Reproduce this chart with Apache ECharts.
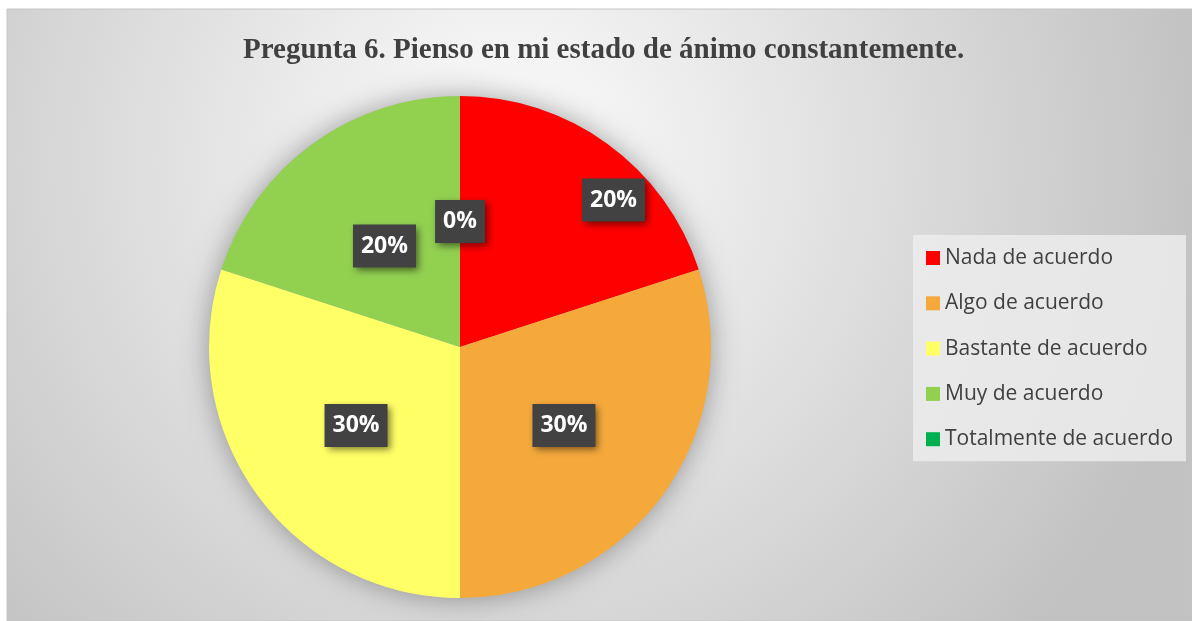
<!DOCTYPE html>
<html>
<head>
<meta charset="utf-8">
<script src="https://cdn.jsdelivr.net/npm/echarts@6/dist/echarts.min.js"></script>
<style>
  body { margin: 0; background: #fff; }
</style>
</head>
<body>
<div id="main" style="width: 1192px;height:621px;"></div>

<script type="text/javascript">
  // datos de la pregunta 6
  var categorias = ['Nada de acuerdo', 'Algo de acuerdo', 'Bastante de acuerdo', 'Muy de acuerdo', 'Totalmente de acuerdo'];
  var porcentajes = [20, 30, 30, 20, 0];
  var colores = ['#ff0000', '#f5a93b', '#ffff66', '#92d050', '#00b050'];

  var datos = [];
  categorias.forEach(function(nombre, i){
    datos.push({ name: nombre, value: porcentajes[i], itemStyle: { color: colores[i] } });
  })

  var option = {
    backgroundColor: '#ffffff',
    graphic: [
      {
        type: 'rect',
        z: -10,
        silent: true,
        shape: { x: 7, y: 9, width: 1185, height: 612 },
        style: {
          fill: {
            type: 'radial', x: 0.42, y: 0.25, r: 1.15,
            colorStops: [
              { offset: 0, color: '#fdfdfd' },
              { offset: 1, color: '#c2c2c2' }
            ]
          },
          stroke: '#c4c4c4',
          lineWidth: 1
        }
      }
    ],
    title: {
      text: 'Pregunta 6. Pienso en mi estado de ánimo constantemente.',
      left: 238,
      top: 31,
      textStyle: {
        fontFamily: 'Liberation Serif',
        fontWeight: 'bold',
        fontSize: 29,
        color: '#404040'
      }
    },
    legend: {
      orient: 'vertical',
      left: 913,
      top: 235,
      padding: [12, 13, 11, 13],
      itemGap: 23.3,
      itemWidth: 14,
      itemHeight: 14,
      icon: 'rect',
      backgroundColor: 'rgba(236,236,236,0.85)',
      data: categorias,
      textStyle: {
        fontFamily: 'Open Sans',
        fontSize: 21,
        lineHeight: 22,
        color: '#404040'
      }
    },
    series: [
      {
        // sombra detrás del círculo
        type: 'pie',
        silent: true,
        center: [460, 347],
        radius: 251,
        z: 1,
        label: { show: false },
        labelLine: { show: false },
        itemStyle: {
          color: '#bbbbbb',
          shadowBlur: 28,
          shadowColor: 'rgba(0,0,0,0.35)'
        },
        data: [{ name: 'fondo', value: 1 }]
      },
      {
        name: 'Pregunta 6',
        type: 'pie',
        center: [460, 347],
        radius: 251,
        startAngle: 90,
        clockwise: true,
        z: 2,
        avoidLabelOverlap: false,
        emphasis: { disabled: true },
        label: {
          show: true,
          position: 'inside',
          formatter: function(p){ return p.value + '%'; },
          fontFamily: 'Open Sans',
          fontWeight: 'bold',
          fontSize: 23,
          lineHeight: 24,
          color: '#ffffff',
          backgroundColor: '#424242',
          padding: [10, 8, 9, 8],
          shadowBlur: 7,
          shadowOffsetX: 3,
          shadowOffsetY: 3,
          shadowColor: 'rgba(0,0,0,0.5)'
        },
        labelLine: { show: false },
        labelLayout: function(params){
          // la etiqueta roja está desplazada hacia el borde en el original
          if (params.dataIndex === 0) {
            return { dx: 78, dy: -43 };
          }
          return { dy: 3 };
        },
        data: datos
      }
    ]
  };

  var myChart = echarts.init(document.getElementById('main'));
  myChart.setOption(option);
</script>
</body>
</html>
